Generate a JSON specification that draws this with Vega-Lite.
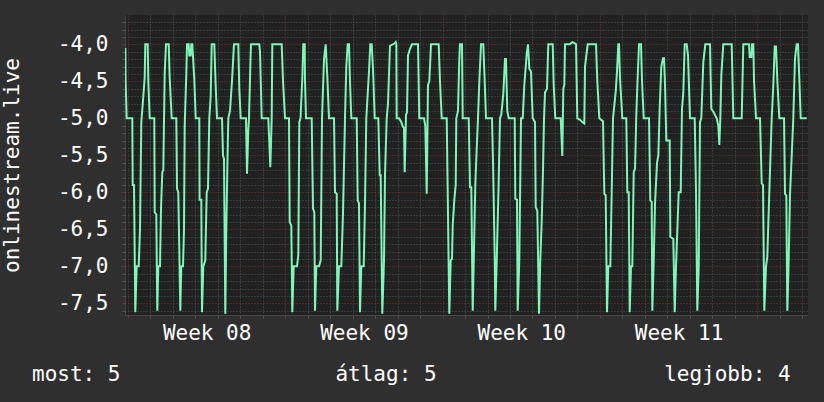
{
  "$schema": "https://vega.github.io/schema/vega-lite/v6.json",
  "width": 683,
  "height": 300,
  "autosize": {"type": "none"},
  "padding": {"left": 125, "top": 15, "right": 16, "bottom": 87},
  "background": "#2f2f2f",
  "config": {
    "view": {"fill": "#212121", "stroke": null},
    "font": "DejaVu Sans Mono"
  },
  "title": {
    "text": "most: 5\u00a0\u00a0\u00a0\u00a0\u00a0\u00a0\u00a0\u00a0\u00a0\u00a0\u00a0\u00a0\u00a0\u00a0\u00a0\u00a0\u00a0átlag: 5\u00a0\u00a0\u00a0\u00a0\u00a0\u00a0\u00a0\u00a0\u00a0\u00a0\u00a0\u00a0\u00a0\u00a0\u00a0\u00a0\u00a0\u00a0legjobb: 4",
    "orient": "bottom",
    "anchor": "start",
    "frame": "group",
    "dx": -93,
    "offset": 38,
    "baseline": "alphabetic",
    "font": "DejaVu Sans Mono",
    "fontSize": 21,
    "fontWeight": "normal",
    "color": "#ffffff"
  },
  "data": {"values": [
    {"d":-0.120,"v":-4.05},{"d":-0.107,"v":-4.49},{"d":-0.058,"v":-5.0},{"d":0.191,"v":-5.0},{"d":0.209,"v":-5.9},{"d":0.267,"v":-5.9},{"d":0.325,"v":-7.62},{"d":0.387,"v":-7.0},{"d":0.476,"v":-7.0},{"d":0.534,"v":-6.5},{"d":0.592,"v":-5.05},{"d":0.668,"v":-4.76},{"d":0.743,"v":-4.45},{"d":0.770,"v":-4.0},{"d":0.877,"v":-4.0},{"d":0.903,"v":-4.49},{"d":0.966,"v":-5.0},
    {"d":1.170,"v":-5.0},{"d":1.188,"v":-6.27},{"d":1.259,"v":-6.3},{"d":1.304,"v":-7.6},{"d":1.348,"v":-7.0},{"d":1.424,"v":-7.0},{"d":1.469,"v":-6.22},{"d":1.526,"v":-5.73},{"d":1.571,"v":-5.7},{"d":1.633,"v":-4.4},{"d":1.691,"v":-4.0},{"d":1.811,"v":-4.0},{"d":1.856,"v":-4.46},{"d":1.945,"v":-5.0},
    {"d":2.150,"v":-5.0},{"d":2.181,"v":-5.95},{"d":2.239,"v":-6.0},{"d":2.328,"v":-7.6},{"d":2.372,"v":-7.0},{"d":2.448,"v":-7.0},{"d":2.492,"v":-6.5},{"d":2.523,"v":-5.1},{"d":2.595,"v":-4.4},{"d":2.626,"v":-4.0},{"d":2.701,"v":-4.0},{"d":2.728,"v":-4.15},{"d":2.790,"v":-4.15},{"d":2.817,"v":-4.0},{"d":2.862,"v":-4.0},{"d":2.951,"v":-4.48},{"d":3.013,"v":-5.0},
    {"d":3.173,"v":-5.0},{"d":3.186,"v":-6.1},{"d":3.262,"v":-6.1},{"d":3.293,"v":-7.62},{"d":3.351,"v":-7.0},{"d":3.440,"v":-6.92},{"d":3.502,"v":-6.0},{"d":3.560,"v":-5.95},{"d":3.618,"v":-5.0},{"d":3.680,"v":-4.7},{"d":3.725,"v":-4.0},{"d":3.841,"v":-4.0},{"d":3.894,"v":-4.5},{"d":3.961,"v":-5.0},
    {"d":4.183,"v":-5.0},{"d":4.228,"v":-5.5},{"d":4.272,"v":-5.55},{"d":4.330,"v":-7.64},{"d":4.375,"v":-6.5},{"d":4.419,"v":-5.7},{"d":4.464,"v":-5.0},{"d":4.539,"v":-4.9},{"d":4.628,"v":-4.5},{"d":4.717,"v":-4.0},{"d":4.909,"v":-4.0},{"d":4.953,"v":-4.6},{"d":5.016,"v":-5.0},
    {"d":5.251,"v":-5.0},{"d":5.296,"v":-5.75},{"d":5.354,"v":-5.15},{"d":5.385,"v":-5.0},{"d":5.452,"v":-4.2},{"d":5.474,"v":-4.0},{"d":5.843,"v":-4.0},{"d":5.875,"v":-4.1},{"d":5.950,"v":-5.0},
    {"d":6.244,"v":-5.0},{"d":6.333,"v":-5.66},{"d":6.395,"v":-5.0},{"d":6.422,"v":-4.0},{"d":6.840,"v":-4.0},{"d":6.898,"v":-4.49},{"d":6.987,"v":-5.0},
    {"d":7.165,"v":-5.0},{"d":7.196,"v":-6.4},{"d":7.268,"v":-6.45},{"d":7.312,"v":-7.62},{"d":7.374,"v":-7.0},{"d":7.521,"v":-7.0},{"d":7.579,"v":-6.85},{"d":7.624,"v":-5.05},{"d":7.677,"v":-5.0},{"d":7.757,"v":-4.46},{"d":7.801,"v":-4.0},{"d":7.864,"v":-4.0},{"d":7.877,"v":-4.48},{"d":7.922,"v":-5.0},
    {"d":8.175,"v":-5.0},{"d":8.233,"v":-6.22},{"d":8.291,"v":-6.27},{"d":8.322,"v":-7.6},{"d":8.380,"v":-7.0},{"d":8.500,"v":-7.0},{"d":8.576,"v":-6.92},{"d":8.634,"v":-5.0},{"d":8.723,"v":-4.2},{"d":8.798,"v":-4.0},{"d":8.870,"v":-4.44},{"d":8.945,"v":-5.0},
    {"d":9.168,"v":-5.0},{"d":9.212,"v":-6.0},{"d":9.288,"v":-6.02},{"d":9.315,"v":-7.6},{"d":9.390,"v":-7.0},{"d":9.493,"v":-7.0},{"d":9.568,"v":-6.29},{"d":9.657,"v":-5.0},{"d":9.715,"v":-4.3},{"d":9.777,"v":-4.0},{"d":9.835,"v":-4.0},{"d":9.880,"v":-4.51},{"d":9.938,"v":-5.0},
    {"d":10.178,"v":-5.0},{"d":10.223,"v":-6.11},{"d":10.280,"v":-6.15},{"d":10.325,"v":-7.62},{"d":10.383,"v":-7.0},{"d":10.490,"v":-7.0},{"d":10.547,"v":-6.15},{"d":10.605,"v":-5.0},{"d":10.725,"v":-4.37},{"d":10.783,"v":-4.0},{"d":10.845,"v":-4.0},{"d":10.903,"v":-4.33},{"d":10.979,"v":-5.0},
    {"d":11.139,"v":-5.0},{"d":11.202,"v":-5.77},{"d":11.246,"v":-5.77},{"d":11.317,"v":-7.64},{"d":11.393,"v":-6.92},{"d":11.438,"v":-5.75},{"d":11.513,"v":-5.0},{"d":11.571,"v":-4.8},{"d":11.660,"v":-4.02},{"d":11.852,"v":-3.99},{"d":11.914,"v":-3.97},{"d":11.941,"v":-4.0},{"d":11.958,"v":-5.0},
    {"d":12.061,"v":-5.0},{"d":12.163,"v":-5.05},{"d":12.225,"v":-5.11},{"d":12.283,"v":-5.13},{"d":12.314,"v":-5.73},{"d":12.372,"v":-4.95},{"d":12.417,"v":-4.92},{"d":12.461,"v":-4.15},{"d":12.550,"v":-4.06},{"d":12.639,"v":-4.0},{"d":12.906,"v":-4.0},{"d":12.964,"v":-5.0},
    {"d":13.173,"v":-5.0},{"d":13.231,"v":-5.1},{"d":13.293,"v":-6.02},{"d":13.351,"v":-4.55},{"d":13.409,"v":-4.5},{"d":13.485,"v":-4.0},{"d":13.827,"v":-4.0},{"d":13.885,"v":-4.5},{"d":13.961,"v":-5.0},
    {"d":14.184,"v":-5.0},{"d":14.228,"v":-6.0},{"d":14.299,"v":-7.64},{"d":14.362,"v":-6.92},{"d":14.419,"v":-6.9},{"d":14.450,"v":-6.45},{"d":14.522,"v":-6.1},{"d":14.584,"v":-5.9},{"d":14.611,"v":-5.0},{"d":14.686,"v":-4.9},{"d":14.744,"v":-4.2},{"d":14.775,"v":-4.0},{"d":14.864,"v":-4.0},{"d":14.895,"v":-5.0},
    {"d":15.162,"v":-5.0},{"d":15.220,"v":-5.93},{"d":15.278,"v":-5.93},{"d":15.340,"v":-7.6},{"d":15.398,"v":-6.76},{"d":15.456,"v":-5.9},{"d":15.518,"v":-5.41},{"d":15.576,"v":-5.0},{"d":15.634,"v":-4.51},{"d":15.710,"v":-4.0},{"d":15.812,"v":-4.0},{"d":15.875,"v":-4.51},{"d":15.932,"v":-5.0},
    {"d":16.199,"v":-5.0},{"d":16.257,"v":-5.77},{"d":16.320,"v":-6.9},{"d":16.346,"v":-7.6},{"d":16.409,"v":-6.92},{"d":16.497,"v":-5.85},{"d":16.555,"v":-5.0},{"d":16.613,"v":-4.95},{"d":16.702,"v":-4.67},{"d":16.778,"v":-4.2},{"d":16.822,"v":-4.2},{"d":16.880,"v":-4.9},{"d":16.943,"v":-5.0},
    {"d":17.210,"v":-5.0},{"d":17.236,"v":-6.09},{"d":17.312,"v":-6.1},{"d":17.343,"v":-7.6},{"d":17.415,"v":-6.9},{"d":17.490,"v":-5.0},{"d":17.566,"v":-5.0},{"d":17.637,"v":-4.55},{"d":17.744,"v":-4.13},{"d":17.802,"v":-4.0},{"d":17.860,"v":-4.33},{"d":17.935,"v":-4.37},{"d":18.011,"v":-5.0},
    {"d":18.113,"v":-5.05},{"d":18.144,"v":-6.2},{"d":18.216,"v":-6.25},{"d":18.291,"v":-7.64},{"d":18.349,"v":-6.9},{"d":18.411,"v":-6.4},{"d":18.469,"v":-5.7},{"d":18.514,"v":-5.0},{"d":18.558,"v":-4.65},{"d":18.647,"v":-4.6},{"d":18.705,"v":-4.0},{"d":18.901,"v":-4.0},{"d":18.945,"v":-4.55},{"d":19.016,"v":-5.0},
    {"d":19.257,"v":-5.0},{"d":19.328,"v":-5.51},{"d":19.373,"v":-4.6},{"d":19.417,"v":-4.55},{"d":19.448,"v":-4.0},{"d":19.671,"v":-4.0},{"d":19.773,"v":-3.97},{"d":19.849,"v":-3.98},{"d":19.938,"v":-4.0},{"d":19.996,"v":-5.0},
    {"d":20.116,"v":-5.02},{"d":20.249,"v":-5.06},{"d":20.307,"v":-5.07},{"d":20.338,"v":-4.3},{"d":20.458,"v":-4.0},{"d":20.828,"v":-4.0},{"d":20.886,"v":-4.5},{"d":20.975,"v":-5.0},
    {"d":21.139,"v":-5.04},{"d":21.197,"v":-6.02},{"d":21.259,"v":-6.04},{"d":21.317,"v":-7.62},{"d":21.375,"v":-7.0},{"d":21.464,"v":-7.0},{"d":21.526,"v":-6.0},{"d":21.584,"v":-5.0},{"d":21.705,"v":-4.64},{"d":21.762,"v":-4.37},{"d":21.820,"v":-4.0},{"d":21.851,"v":-4.0},{"d":21.896,"v":-4.45},{"d":21.998,"v":-5.0},
    {"d":22.176,"v":-5.0},{"d":22.221,"v":-6.0},{"d":22.283,"v":-6.0},{"d":22.328,"v":-7.62},{"d":22.386,"v":-7.0},{"d":22.443,"v":-7.0},{"d":22.506,"v":-5.73},{"d":22.564,"v":-5.68},{"d":22.622,"v":-4.95},{"d":22.675,"v":-4.5},{"d":22.742,"v":-4.0},{"d":22.831,"v":-4.0},{"d":22.875,"v":-4.5},{"d":22.951,"v":-5.0},
    {"d":23.187,"v":-5.0},{"d":23.244,"v":-6.11},{"d":23.307,"v":-6.13},{"d":23.334,"v":-7.6},{"d":23.396,"v":-6.92},{"d":23.454,"v":-6.15},{"d":23.543,"v":-5.6},{"d":23.601,"v":-5.5},{"d":23.663,"v":-4.85},{"d":23.734,"v":-4.3},{"d":23.810,"v":-4.19},{"d":23.854,"v":-4.19},{"d":23.899,"v":-4.55},{"d":23.957,"v":-5.3},
    {"d":24.108,"v":-5.3},{"d":24.135,"v":-6.6},{"d":24.268,"v":-6.63},{"d":24.330,"v":-7.62},{"d":24.388,"v":-7.0},{"d":24.508,"v":-6.0},{"d":24.597,"v":-6.0},{"d":24.655,"v":-4.87},{"d":24.713,"v":-4.65},{"d":24.775,"v":-4.0},{"d":24.864,"v":-4.0},{"d":24.922,"v":-4.15},{"d":25.011,"v":-5.0},
    {"d":25.220,"v":-5.0},{"d":25.278,"v":-5.98},{"d":25.336,"v":-7.6},{"d":25.399,"v":-7.0},{"d":25.456,"v":-5.05},{"d":25.514,"v":-5.0},{"d":25.603,"v":-4.24},{"d":25.692,"v":-4.0},{"d":25.901,"v":-4.0},{"d":25.959,"v":-4.87},{"d":26.048,"v":-4.91},{"d":26.199,"v":-5.0},
    {"d":26.271,"v":-5.1},{"d":26.316,"v":-5.36},{"d":26.360,"v":-5.0},{"d":26.404,"v":-4.42},{"d":26.493,"v":-4.0},{"d":26.867,"v":-4.0},{"d":26.938,"v":-5.0},
    {"d":27.312,"v":-5.0},{"d":27.383,"v":-4.0},{"d":27.637,"v":-4.0},{"d":27.668,"v":-4.17},{"d":27.740,"v":-4.17},{"d":27.771,"v":-4.0},{"d":27.829,"v":-4.0},{"d":27.860,"v":-4.5},{"d":27.949,"v":-5.0},
    {"d":28.127,"v":-5.0},{"d":28.202,"v":-5.88},{"d":28.260,"v":-5.9},{"d":28.318,"v":-7.6},{"d":28.394,"v":-7.0},{"d":28.451,"v":-6.87},{"d":28.540,"v":-6.0},{"d":28.647,"v":-5.0},{"d":28.719,"v":-4.55},{"d":28.781,"v":-4.03},{"d":28.839,"v":-4.03},{"d":28.897,"v":-4.49},{"d":28.986,"v":-5.0},
    {"d":29.195,"v":-5.0},{"d":29.239,"v":-6.02},{"d":29.297,"v":-6.04},{"d":29.342,"v":-7.6},{"d":29.404,"v":-6.9},{"d":29.462,"v":-6.02},{"d":29.519,"v":-5.63},{"d":29.608,"v":-5.0},{"d":29.684,"v":-4.19},{"d":29.760,"v":-4.0},{"d":29.817,"v":-4.0},{"d":29.875,"v":-4.46},{"d":29.938,"v":-5.0},{"d":30.205,"v":-5.0}
  ]},
  "mark": {"type": "line", "color": "#7ff5b8", "strokeWidth": 2, "clip": true},
  "encoding": {
    "x": {
      "field": "d",
      "type": "quantitative",
      "scale": {"domain": [-0.1335, 30.262], "nice": false, "zero": false},
      "axis": {
        "title": null,
        "values": [0,1,2,3,4,5,6,7,8,9,10,11,12,13,14,15,16,17,18,19,20,21,22,23,24,25,26,27,28,29,30,3.5,10.5,17.5,24.5],
        "grid": true,
        "gridColor": {"condition": {"test": "datum.value % 7 === 0", "value": "#7a3434"}, "value": "#555555"},
        "gridOpacity": {"condition": {"test": "datum.value % 1 !== 0", "value": 0}, "value": 1},
        "gridDash": [1, 2],
        "gridWidth": 1,
        "ticks": true,
        "tickSize": 3,
        "tickColor": {"condition": {"test": "datum.value % 7 === 0", "value": "#7a3434"}, "value": "#555555"},
        "tickOpacity": {"condition": {"test": "datum.value % 1 !== 0", "value": 0}, "value": 1},
        "domain": true,
        "domainColor": "#454545",
        "labelExpr": "datum.value % 1 !== 0 ? 'Week ' + format(floor(datum.value / 7) + 8, '02d') : ''",
        "labelColor": "#ffffff",
        "labelFont": "DejaVu Sans Mono",
        "labelFontSize": 21,
        "labelPadding": 4,
        "labelBaseline": "top",
        "labelOverlap": false,
        "labelFlush": false,
        "labelBound": false
      }
    },
    "y": {
      "field": "v",
      "type": "quantitative",
      "scale": {"domain": [-7.658, -3.604], "nice": false, "zero": false},
      "axis": {
        "title": "onlinestream.live",
        "titleFont": "DejaVu Sans Mono",
        "titleFontSize": 21,
        "titleFontWeight": "normal",
        "titleColor": "#ffffff",
        "titleAngle": 270,
        "titleAlign": "center",
        "titleBaseline": "alphabetic",
        "titleX": -106.7,
        "titleY": 150,
        "values": [-7.6,-7.5,-7.4,-7.3,-7.2,-7.1,-7.0,-6.9,-6.8,-6.7,-6.6,-6.5,-6.4,-6.3,-6.2,-6.1,-6.0,-5.9,-5.8,-5.7,-5.6,-5.5,-5.4,-5.3,-5.2,-5.1,-5.0,-4.9,-4.8,-4.7,-4.6,-4.5,-4.4,-4.3,-4.2,-4.1,-4.0,-3.9,-3.8,-3.7],
        "grid": true,
        "gridColor": {"condition": {"test": "abs(datum.value * 2 - round(datum.value * 2)) < 0.01", "value": "#7a3434"}, "value": "#555555"},
        "gridDash": [1, 2],
        "gridWidth": 1,
        "ticks": true,
        "tickSize": 3,
        "tickColor": {"condition": {"test": "abs(datum.value * 2 - round(datum.value * 2)) < 0.01", "value": "#7a3434"}, "value": "#555555"},
        "domain": true,
        "domainColor": "#454545",
        "labelExpr": "abs(datum.value * 2 - round(datum.value * 2)) < 0.01 ? '-' + replace(format(abs(datum.value), '.1f'), '.', ',') : ''",
        "labelColor": "#ffffff",
        "labelFont": "DejaVu Sans Mono",
        "labelFontSize": 21,
        "labelPadding": 14,
        "labelBaseline": "middle",
        "labelOverlap": false,
        "labelBound": false,
        "labelFlush": false
      }
    }
  }
}
